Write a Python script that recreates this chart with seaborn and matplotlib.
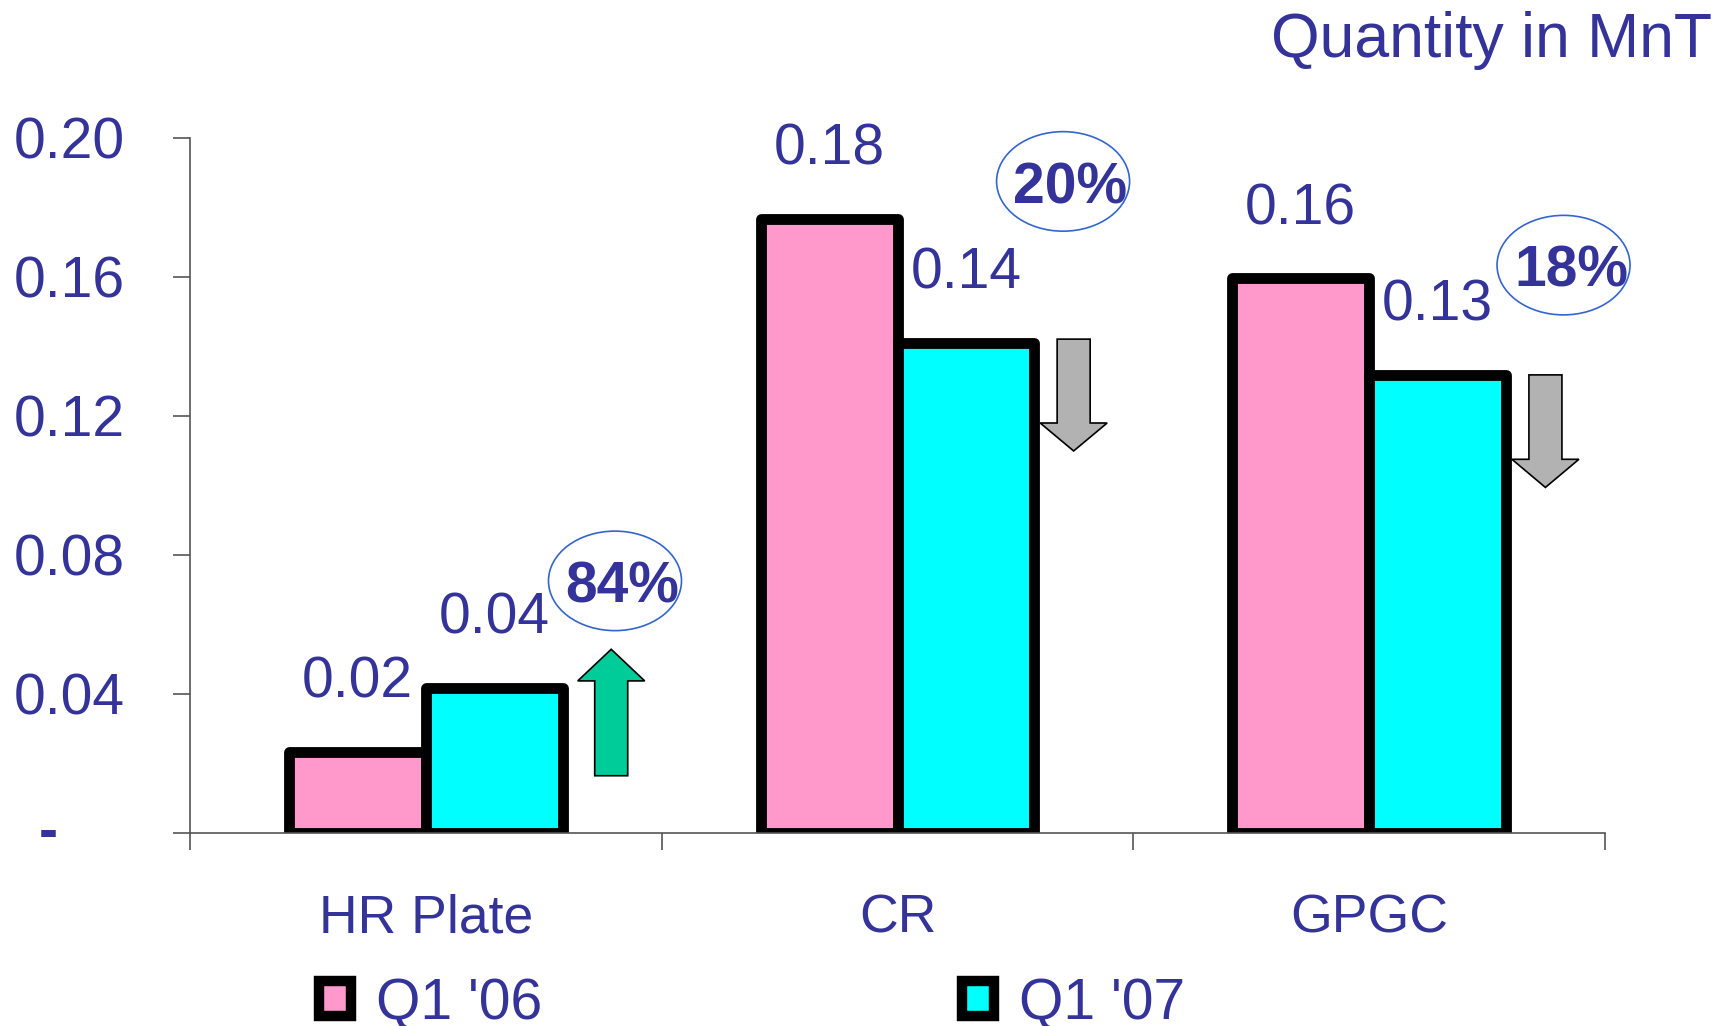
import numpy as np
import pandas as pd
import matplotlib
matplotlib.use("Agg")
import matplotlib.pyplot as plt
import seaborn as sns
from matplotlib.patches import Ellipse, FancyArrow, Patch
from matplotlib.transforms import ScaledTranslation

# ---- data -------------------------------------------------------------
products = ["HR Plate", "CR", "GPGC"]
periods = ["Q1 '06", "Q1 '07"]
q1_06 = [0.0232, 0.1767, 0.1596]
q1_07 = [0.0418, 0.1411, 0.1318]
change_pct = [84, -20, -18]
y_ticks = [0.0, 0.04, 0.08, 0.12, 0.16, 0.20]
y_tick_labels = ["-", "0.04", "0.08", "0.12", "0.16", "0.20"]

# ---- styling ----------------------------------------------------------
TEXT = "#333399"
PINK = "#FF99CC"
CYAN = "#00FFFF"
RISE = "#00CC99"
FALL = "#B2B2B2"
RING = "#3366CC"
AXIS = "#555555"

# badge (ellipse) placement per product: x offset from group centre, y level
BADGE_DX = [0.401, 0.351, 0.412]
BADGE_Y = [0.0725, 0.1875, 0.1634]
# arrow placement per product: x offset, tail y, tip y
ARROW_DX = [0.393, 0.3734, 0.3736]
ARROW_SPAN = [(0.0164, 0.0528), (0.1421, 0.1099), (0.1318, 0.0994)]

df = pd.DataFrame({
    "product": products * 2,
    "period": [periods[0]] * len(products) + [periods[1]] * len(products),
    "qty": q1_06 + q1_07,
})

sns.set_theme(style="white")
plt.rcParams["font.family"] = ["Liberation Sans", "DejaVu Sans"]

fig = plt.figure(figsize=(17.32, 10.26), dpi=100)
ax = fig.add_axes([0.1097, 0.1884, 0.8170, 0.6771])

sns.barplot(
    data=df, x="product", y="qty", hue="period",
    order=products, hue_order=periods,
    palette=[PINK, CYAN], saturation=1, width=0.58,
    edgecolor="black", linewidth=7.8, errorbar=None,
    legend=False, ax=ax,
)
for p in ax.patches:
    p.set_joinstyle("round")

ax.set_xlim(-0.5, 2.5)
ax.set_ylim(0, 0.20)
ax.set_xlabel("")
ax.set_ylabel("")

# category boundaries carry the tick marks, centres carry the names
ax.set_xticks([-0.5, 0.5, 1.5, 2.5])
ax.set_xticklabels([])
ax.set_xticks([0, 1, 2], minor=True)
ax.set_xticklabels(products, minor=True)
ax.tick_params(axis="x", which="major", bottom=True, length=12, width=1.2,
               color=AXIS, direction="out")
ax.tick_params(axis="x", which="minor", bottom=True, length=0, pad=44,
               labelsize=38.5, labelcolor=TEXT)

ax.set_yticks(y_ticks)
ax.set_yticklabels(y_tick_labels)
ax.tick_params(axis="y", left=True, length=12, width=1.2, color=AXIS,
               direction="out", pad=34.8, labelsize=41, labelcolor=TEXT)
# the zero label is a lone dash set further left, as in accounting format
zero_lab = ax.yaxis.get_major_ticks()[0].label1
zero_lab.set_fontweight("bold")
zero_lab.set_transform(zero_lab.get_transform()
                       + ScaledTranslation(-0.676, 0.045, fig.dpi_scale_trans))

for side in ("top", "right"):
    ax.spines[side].set_visible(False)
for side in ("left", "bottom"):
    ax.spines[side].set_color(AXIS)
    ax.spines[side].set_linewidth(1.2)

# value labels above each bar
for container, vals in zip(ax.containers, [q1_06, q1_07]):
    for bar, v in zip(container, vals):
        ax.annotate(f"{v:.2f}", (bar.get_x() + bar.get_width() / 2, v),
                    xytext=(0, 39), textcoords="offset points",
                    ha="center", va="baseline", fontsize=41, color=TEXT,
                    annotation_clip=False)

# change badges and direction arrows
for i, pct in enumerate(change_pct):
    cx = i + BADGE_DX[i]
    cy = BADGE_Y[i]
    ax.add_patch(Ellipse((cx, cy), 0.282, 0.02865, fill=False,
                         edgecolor=RING, linewidth=1.2, clip_on=False,
                         zorder=5))
    ax.annotate(f"{abs(pct)}%", (cx, cy), xytext=(5.3, -15.6),
                textcoords="offset points", ha="center", va="baseline",
                fontsize=41, fontweight="bold", color=TEXT,
                annotation_clip=False, zorder=6)

    tail, tip = ARROW_SPAN[i]
    ax.add_patch(FancyArrow(i + ARROW_DX[i], tail, 0, tip - tail,
                            width=0.07, head_width=0.142,
                            head_length=abs(tip - tail) * 0.25,
                            length_includes_head=True,
                            facecolor=RISE if pct > 0 else FALL,
                            edgecolor="black", linewidth=1.2,
                            clip_on=False, zorder=5))

fig.text(1712 / 1732, 1 - 11 / 1026, "Quantity in MnT", ha="right",
         va="top", fontsize=45, color=TEXT)

handles = [Patch(facecolor=c, edgecolor="black", linewidth=7.5,
                 joinstyle="round") for c in (PINK, CYAN)]
leg = fig.legend(handles, periods, loc="center left",
                 bbox_to_anchor=(0.1842, 0.0215), ncol=2, frameon=False,
                 fontsize=41, borderpad=0, borderaxespad=0,
                 handlelength=0.57, handleheight=0.57, handletextpad=0.43,
                 columnspacing=7.37)
for t in leg.get_texts():
    t.set_color(TEXT)

fig.savefig("out.png", dpi=100)
